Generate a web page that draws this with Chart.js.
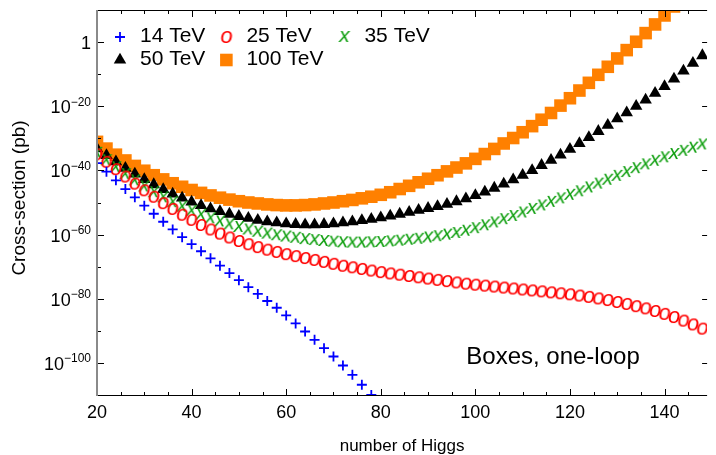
<!DOCTYPE html>
<html>
<head>
<meta charset="utf-8">
<script src="https://cdn.jsdelivr.net/npm/chart.js@4.4.0/dist/chart.umd.min.js"></script>
<style>
  html, body { margin: 0; padding: 0; background: #fff; overflow: hidden; }
  #wrap { width: 716px; height: 455px; position: relative; }
</style>
</head>
<body>
<div id="wrap"><canvas id="higgsChart"></canvas></div>
<script>
// number of Higgs (x values, step 2)
const nHiggs = [20, 22, 24, 26, 28, 30, 32, 34, 36, 38, 40, 42, 44, 46, 48, 50, 52, 54, 56, 58,
                60, 62, 64, 66, 68, 70, 72, 74, 76, 78, 80, 82, 84, 86, 88, 90, 92, 94, 96, 98,
                100, 102, 104, 106, 108, 110, 112, 114, 116, 118, 120, 122, 124, 126, 128, 130,
                132, 134, 136, 138, 140, 142, 144, 146, 148];

// cross-sections, stored as powers of ten (pb)
const xsec14 = [-37.7, -40.4, -43.1, -45.8, -48.4, -51.0, -53.5, -56.0, -58.4, -60.8,
                -63.0, -65.2, -67.4, -69.7, -72.0, -74.2, -76.4, -78.5, -80.7, -82.8,
                -85.2, -87.7, -90.2, -92.8, -95.4, -98.0, -100.8, -103.7, -106.8, -110.0];
const xsec25 = [-35.0, -37.3, -39.6, -41.9, -44.1, -46.2, -48.2, -50.2, -52.0, -53.8,
                -55.4, -57.0, -58.4, -59.7, -60.9, -62.0, -63.0, -63.9, -64.7, -65.4,
                -66.1, -66.7, -67.3, -67.9, -68.5, -69.1, -69.7, -70.2, -70.7, -71.2,
                -71.7, -72.1, -72.5, -72.9, -73.3, -73.7, -74.1, -74.5, -74.9, -75.3,
                -75.6, -75.9, -76.2, -76.5, -76.8, -77.1, -77.4, -77.7, -78.0, -78.3,
                -78.6, -79.0, -79.4, -79.9, -80.4, -81.0, -81.6, -82.3, -83.0, -83.8,
                -84.7, -85.7, -86.8, -88.0, -89.3];
const xsec35 = [-34.5, -36.8, -39.0, -41.1, -43.1, -45.0, -46.8, -48.4, -49.9, -51.3,
                -52.6, -53.8, -54.9, -55.9, -56.8, -57.6, -58.4, -59.1, -59.7, -60.2,
                -60.6, -61.0, -61.4, -61.7, -62.0, -62.2, -62.4, -62.5, -62.5, -62.4,
                -62.3, -62.1, -61.9, -61.6, -61.3, -60.9, -60.5, -60.0, -59.5, -58.8,
                -58.0, -57.1, -56.2, -55.2, -54.2, -53.1, -52.0, -50.9, -49.8, -48.7,
                -47.6, -46.5, -45.3, -44.1, -42.9, -41.7, -40.5, -39.3, -38.1, -37.0,
                -35.9, -34.9, -33.9, -32.9, -31.9];
const xsec50 = [-33.2, -35.3, -37.3, -39.3, -41.1, -42.8, -44.4, -45.9, -47.3, -48.6,
                -49.8, -50.9, -51.9, -52.8, -53.6, -54.3, -54.9, -55.5, -56.0, -56.3,
                -56.6, -56.8, -56.9, -56.9, -56.8, -56.6, -56.3, -56.0, -55.6, -55.2,
                -54.7, -54.2, -53.6, -53.0, -52.4, -51.8, -51.2, -50.5, -49.7, -48.8,
                -47.8, -46.7, -45.5, -44.2, -42.9, -41.5, -40.0, -38.4, -36.8, -35.2,
                -33.4, -31.6, -29.7, -27.8, -25.9, -23.9, -22.0, -20.0, -18.0, -15.9,
                -13.8, -11.5, -9.0, -6.6, -4.2];
const xsec100 = [-31.1, -33.2, -35.1, -36.9, -38.6, -40.1, -41.5, -42.8, -44.0, -45.1,
                 -46.1, -47.0, -47.8, -48.5, -49.1, -49.6, -50.0, -50.3, -50.6, -50.8,
                 -50.9, -50.9, -50.8, -50.6, -50.3, -50.0, -49.6, -49.2, -48.7, -48.2,
                 -47.6, -46.8, -45.8, -44.8, -43.7, -42.6, -41.5, -40.3, -39.1, -37.8,
                 -36.4, -34.9, -33.3, -31.6, -29.9, -28.1, -26.2, -24.2, -22.1, -19.8,
                 -17.5, -15.1, -12.7, -10.2, -7.7, -5.1, -2.5, 0.1, 2.8, 5.5,
                 8.3, 11.1, 14.0, 16.9, 19.9];

const seriesLabels = ['14 TeV', '25 TeV', '35 TeV', '50 TeV', '100 TeV'];
const seriesValues = [xsec14, xsec25, xsec35, xsec50, xsec100];
const seriesColors = ['#0000ff', '#ff0000', '#12a012', '#000000', '#ff8000'];

const xTickValues = [20, 40, 60, 80, 100, 120, 140];
const xTickLabels = ['20', '40', '60', '80', '100', '120', '140'];
const yTickExps = [0, -20, -40, -60, -80, -100];
const yTickBase = ['1', '10', '10', '10', '10', '10'];
const yTickPower = ['', '\u221220', '\u221240', '\u221260', '\u221280', '\u2212100'];

const xTitle = 'number of Higgs';
const yTitle = 'Cross-section (pb)';
const annotation = 'Boxes, one-loop';

const FONT = '"Liberation Sans", Arial, Helvetica, sans-serif';

// italic letter markers ("o" and "x") as small canvases
function glyphMarker(ch, color, size) {
    const c = document.createElement('canvas');
    c.width = 24;
    c.height = 24;
    const g = c.getContext('2d');
    g.font = 'italic ' + size + 'px ' + FONT;
    g.fillStyle = color;
    g.textAlign = 'center';
    g.textBaseline = 'alphabetic';
    g.fillText(ch, 12, 12 + size * 0.26);
    return c;
}

const markerStyles = ['cross', glyphMarker('o', seriesColors[1], 22), glyphMarker('x', seriesColors[2], 21), 'triangle', 'rect'];
const markerRadius = [5, 6, 6, 7.2, 8.9];
const markerBorder = [1.8, 0, 0, 0, 0];

const datasets = seriesLabels.map((label, i) => ({
    label: label,
    data: seriesValues[i].map((e, k) => ({ x: nHiggs[k], y: Math.pow(10, e) })),
    showLine: false,
    pointStyle: markerStyles[i],
    pointRadius: markerRadius[i],
    pointHoverRadius: markerRadius[i],
    pointBackgroundColor: seriesColors[i],
    pointBorderColor: seriesColors[i],
    pointBorderWidth: markerBorder[i]
}));

// frame with inward ticks, drawn over the markers
const framePlugin = {
    id: 'frame',
    afterDatasetsDraw(chart) {
        const { ctx, chartArea: a } = chart;
        const xs = chart.scales.x, ys = chart.scales.y;
        ctx.save();
        ctx.strokeStyle = '#000';
        ctx.lineWidth = 1;
        ctx.beginPath();
        ctx.moveTo(a.left, a.top + 0.5); ctx.lineTo(a.right, a.top + 0.5);
        ctx.moveTo(a.left, a.bottom + 0.5); ctx.lineTo(a.right, a.bottom + 0.5);
        for (let v = 25; v <= 145; v += 5) {
            const px = Math.round(xs.getPixelForValue(v)) + 0.5;
            const len = v % 20 === 0 ? 6 : 3;
            ctx.moveTo(px, a.bottom); ctx.lineTo(px, a.bottom - len);
            ctx.moveTo(px, a.top); ctx.lineTo(px, a.top + len + 1);
        }
        for (let e = -100; e <= 0; e += 10) {
            const py = Math.round(ys.getPixelForValue(Math.pow(10, e))) + 0.5;
            const major = e % 20 === 0;
            ctx.moveTo(a.left, py); ctx.lineTo(a.left + (major ? 7 : 4), py);
            if (major) { ctx.moveTo(a.right, py); ctx.lineTo(a.right - 5, py); }
        }
        ctx.stroke();
        ctx.strokeStyle = '#8a8a8a';
        ctx.lineWidth = 2;
        ctx.beginPath();
        ctx.moveTo(a.left, a.top); ctx.lineTo(a.left, a.bottom + 1);
        ctx.stroke();
        ctx.restore();
    }
};

// tick labels, titles, legend and note
const textPlugin = {
    id: 'texts',
    afterDraw(chart) {
        const { ctx, chartArea: a } = chart;
        const xs = chart.scales.x, ys = chart.scales.y;
        ctx.save();
        ctx.fillStyle = '#000';
        ctx.textBaseline = 'alphabetic';

        ctx.font = '18px ' + FONT;
        ctx.textAlign = 'center';
        xTickValues.forEach((v, i) => ctx.fillText(xTickLabels[i], xs.getPixelForValue(v), 418));

        ctx.textAlign = 'right';
        yTickExps.forEach((e, i) => {
            const py = ys.getPixelForValue(Math.pow(10, e));
            let right = a.left - 6;
            if (yTickPower[i]) {
                ctx.font = '12px ' + FONT;
                ctx.fillText(yTickPower[i], right, py - 0.5);
                right -= ctx.measureText(yTickPower[i]).width;
            }
            ctx.font = '18px ' + FONT;
            ctx.fillText(yTickBase[i], right, py + 7);
        });

        ctx.textAlign = 'center';
        ctx.font = '17px ' + FONT;
        ctx.fillText(xTitle, (a.left + a.right) / 2, 451);
        ctx.save();
        ctx.font = '19px ' + FONT;
        ctx.translate(25, 198);
        ctx.rotate(-Math.PI / 2);
        ctx.fillText(yTitle, 0, 0);
        ctx.restore();

        ctx.font = '24px ' + FONT;
        ctx.fillText(annotation, 553, 364);

        // legend, 3 columns x 2 rows
        const rows = [[0, 1, 2], [3, 4]];
        const rowY = [37, 60];
        ctx.font = '21px ' + FONT;
        const colW = [0, 0, 0];
        rows.forEach(r => r.forEach((di, c) => {
            colW[c] = Math.max(colW[c], ctx.measureText(seriesLabels[di]).width);
        }));
        rows.forEach((r, ri) => {
            let mx = 120;
            r.forEach((di, c) => {
                const ds = chart.data.datasets[di];
                ctx.fillStyle = seriesColors[di];
                ctx.strokeStyle = seriesColors[di];
                ctx.lineWidth = ds.pointBorderWidth;
                Chart.helpers.drawPoint(ctx, {
                    pointStyle: ds.pointStyle,
                    radius: ds.pointRadius,
                    borderWidth: ds.pointBorderWidth,
                    rotation: 0
                }, mx, rowY[ri]);
                ctx.fillStyle = '#000';
                ctx.textAlign = 'left';
                ctx.fillText(seriesLabels[di], mx + 20, rowY[ri] + 5);
                mx += 20 + colW[c] + 21;
            });
        });
        ctx.restore();
    }
};

const ctx = document.getElementById('higgsChart').getContext('2d');
new Chart(ctx, {
    type: 'scatter',
    data: { datasets: datasets },
    options: {
        responsive: true,
        maintainAspectRatio: false,
        animation: false,
        events: [],
        layout: { padding: { top: 10, left: 0, right: 0, bottom: 0 } },
        plugins: {
            legend: { display: false },
            tooltip: { enabled: false }
        },
        scales: {
            x: {
                type: 'linear',
                min: 20,
                max: 149,
                grid: { display: false },
                border: { display: false },
                ticks: { display: false },
                afterFit: s => { s.height = 60; }
            },
            y: {
                type: 'logarithmic',
                min: 1e-110,
                max: 1e10,
                grid: { display: false },
                border: { display: false },
                ticks: { display: false },
                afterFit: s => { s.width = 97; }
            }
        }
    },
    plugins: [framePlugin, textPlugin]
});
</script>
</body>
</html>
